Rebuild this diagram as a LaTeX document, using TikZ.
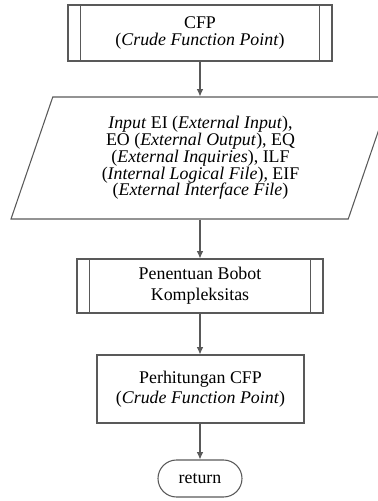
\documentclass[tikz,border=0pt]{standalone}
\usepackage{fontspec}
\setmainfont{Liberation Serif}
\usetikzlibrary{arrows.meta,positioning,shapes.geometric,shapes.misc}

\begin{document}
\begin{tikzpicture}[x=0.75pt,y=-0.75pt,
    every node/.style={font=\fontsize{13.4}{12.6}\selectfont, align=center, draw=black!65, line width=0.8pt},
    flow/.style={draw=black!65, line width=0.8pt, -{Latex[length=5.5pt,width=5pt]}},
    procbox/.style={rectangle, inner sep=0pt},
    iobox/.style={trapezium, trapezium left angle=63.4, trapezium right angle=116.6,
        trapezium stretches body, inner sep=0pt},
    endbox/.style={rounded rectangle, inner sep=0pt}]
    \useasboundingbox (0,0) rectangle (378,501);

    \node[procbox, minimum width=198pt, minimum height=42pt] (cfp) at (200,33)
        {CFP\\(\textit{Crude Function Point})};
    \node[iobox, minimum width=284.25pt, minimum height=91.5pt] (input) at (200.5,158)
        {\textit{Input} EI (\textit{External Input}),\\
         EO (\textit{External Output}), EQ\\
         (\textit{External Inquiries}), ILF\\
         (\textit{Internal Logical File}), EIF\\
         (\textit{External Interface File})};
    \node[procbox, minimum width=184.5pt, minimum height=40.5pt, font=\fontsize{13.4}{16}\selectfont] (bobot) at (200,286)
        {Penentuan Bobot\\Kompleksitas};
    \node[procbox, minimum width=155.25pt, minimum height=51pt, font=\fontsize{13.4}{15}\selectfont] (hitung) at (200.5,389)
        {Perhitungan CFP\\(\textit{Crude Function Point})};
    \node[endbox, minimum width=63pt, minimum height=27.75pt] (ret) at (200,478.5) {return};

    % garis dalam kotak proses
    \draw[draw=black!65, line width=0.8pt] ([xshift=9.75pt]cfp.north west) -- ([xshift=9.75pt]cfp.south west);
    \draw[draw=black!65, line width=0.8pt] ([xshift=-9.75pt]cfp.north east) -- ([xshift=-9.75pt]cfp.south east);
    \draw[draw=black!65, line width=0.8pt] ([xshift=9.75pt]bobot.north west) -- ([xshift=9.75pt]bobot.south west);
    \draw[draw=black!65, line width=0.8pt] ([xshift=-9.75pt]bobot.north east) -- ([xshift=-9.75pt]bobot.south east);

    \draw[flow] (cfp.south) -- (cfp.south |- input.north);
    \draw[flow] (input.south -| bobot.north) -- (bobot.north);
    \draw[flow] (bobot.south) -- (bobot.south |- hitung.north);
    \draw[flow] (hitung.south -| ret.north) -- (ret.north);
\end{tikzpicture}
\end{document}
